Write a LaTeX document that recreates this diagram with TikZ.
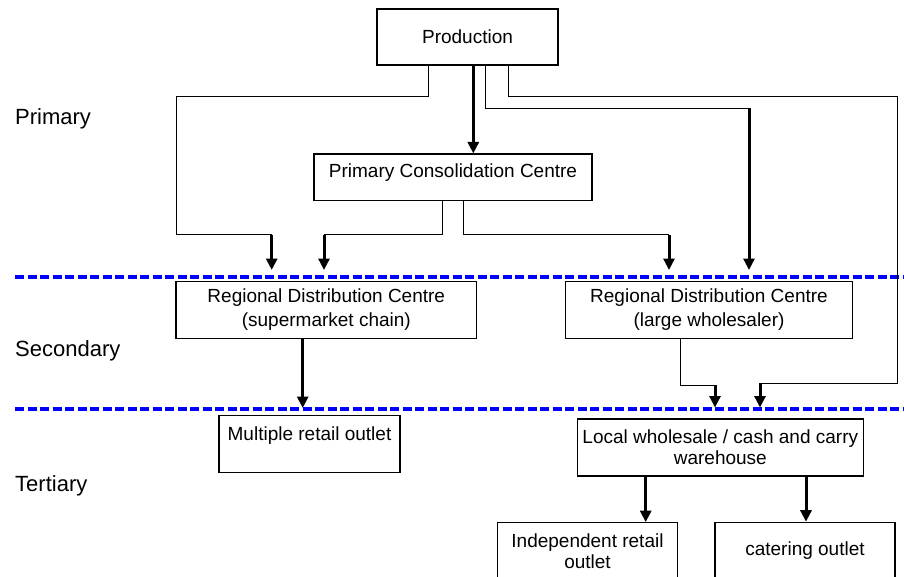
\documentclass[tikz,border=0pt]{standalone}
\usepackage{fontspec}
\setmainfont{Liberation Sans}
\usetikzlibrary{arrows.meta}
\begin{document}
\begin{tikzpicture}[x=1pt,y=-1pt,
  font=\fontsize{19}{23}\selectfont,
  box/.style={draw, line width=1.2pt, inner sep=0pt, align=center},
  thinline/.style={line width=1pt},
  thickarrow/.style={line width=3pt, -{Triangle[width=11pt,length=11.5pt]}},
  lvl/.style={anchor=base west, inner sep=0pt, font=\fontsize{22}{26}\selectfont},
  sep/.style={draw=blue, line width=3.3pt, dash pattern=on 9pt off 3.5pt}]
\useasboundingbox (0,0) rectangle (904,577);
\clip (0,0) rectangle (904,577);
\fill[white] (0,0) rectangle (904,577);

% level labels
\node[lvl] (lp) at (15,125) {Primary};
\node[lvl] (ls) at (15,356.7) {Secondary};
\node[lvl] (lt) at (15,491.7) {Tertiary};

% separators
\coordinate (d1l) at (15,277); \coordinate (d1r) at (904,277);
\coordinate (d2l) at (15,409); \coordinate (d2r) at (904,409);
\draw[sep] (d1l) -- (d1r);
\draw[sep] (d2l) -- (d2r);

% boxes
\node[box, minimum width=181pt, minimum height=56pt] (prod) at (467.5,37) {Production};
\node[box, minimum width=278pt, text height=24pt, text depth=22.7pt] (pcc) at (453,177.35) {Primary Consolidation Centre};
\node[box, minimum width=300.7pt, minimum height=56.6pt, font=\fontsize{19}{24}\selectfont] (rdc1) at (326.3,310) {Regional Distribution Centre\\(supermarket chain)};
\node[box, minimum width=286.6pt, minimum height=56.6pt, font=\fontsize{19}{24}\selectfont] (rdc2) at (709,310) {Regional Distribution Centre\\(large wholesaler)};
\node[box, minimum width=181pt, text height=24.3pt, text depth=32.3pt] (mro) at (309.5,444) {Multiple retail outlet};
\node[box, minimum width=286pt, minimum height=57pt, font=\fontsize{19}{21}\selectfont] (lw) at (720.3,447.5) {Local wholesale / cash and carry\\warehouse};
\node[box, minimum width=180.4pt, minimum height=56.6pt, font=\fontsize{19}{21}\selectfont] (iro) at (587.5,551) {Independent retail\\outlet};
\node[box, minimum width=180pt, minimum height=56.6pt] (cat) at (805,550.6) {catering outlet};

% Production -> RDC supermarket (left route)
\coordinate (a1) at (428.3,97); \coordinate (a2) at (176,97);
\coordinate (a3) at (176,235); \coordinate (a4) at (271.7,235);
\coordinate (a5) at (271.7,270);
\draw[thinline] (prod.south -| a1) -- (a1) -- (a2) -- (a3) -- (a4);
\draw[thickarrow] (a4) -- (a5);

% Production -> PCC
\coordinate (b1) at (473.3,0);
\draw[thickarrow] (prod.south -| b1) -- (pcc.north -| b1);

% Production -> RDC wholesaler
\coordinate (c1) at (485,108.5); \coordinate (c2) at (749,108.5);
\coordinate (c3) at (749,270);
\draw[thinline] (prod.south -| c1) -- (c1) -- (c2);
\draw[thickarrow] (c2) -- (c3);

% Production -> Local wholesale (right route)
\coordinate (e1) at (508.3,97); \coordinate (e2) at (897.7,97);
\coordinate (e3) at (897.7,383.3); \coordinate (e4) at (760,383.3);
\coordinate (e5) at (760,407.5);
\draw[thinline] (prod.south -| e1) -- (e1) -- (e2) -- (e3) -- (e4);
\draw[thickarrow] (e4) -- (e5);

% PCC -> RDC supermarket
\coordinate (f1) at (442.7,235); \coordinate (f2) at (324,235);
\coordinate (f3) at (324,270);
\draw[thinline] (pcc.south -| f1) -- (f1) -- (f2);
\draw[thickarrow] (f2) -- (f3);

% PCC -> RDC wholesaler
\coordinate (g1) at (463.3,235); \coordinate (g2) at (669,235);
\coordinate (g3) at (669,270);
\draw[thinline] (pcc.south -| g1) -- (g1) -- (g2);
\draw[thickarrow] (g2) -- (g3);

% RDC supermarket -> Multiple retail outlet
\coordinate (h1) at (302.7,408);
\draw[thickarrow] (rdc1.south -| h1) -- (h1);

% RDC wholesaler -> Local wholesale
\coordinate (k1) at (680.7,385); \coordinate (k2) at (715,385);
\coordinate (k3) at (715,407.5);
\draw[thinline] (rdc2.south -| k1) -- (k1) -- (k2);
\draw[thickarrow] (k2) -- (k3);

% Local wholesale -> outlets
\coordinate (m1) at (645.7,0);
\draw[thickarrow] (lw.south -| m1) -- (iro.north -| m1);
\coordinate (n1) at (806,0);
\draw[thickarrow] (lw.south -| n1) -- (cat.north -| n1);
\end{tikzpicture}
\end{document}
